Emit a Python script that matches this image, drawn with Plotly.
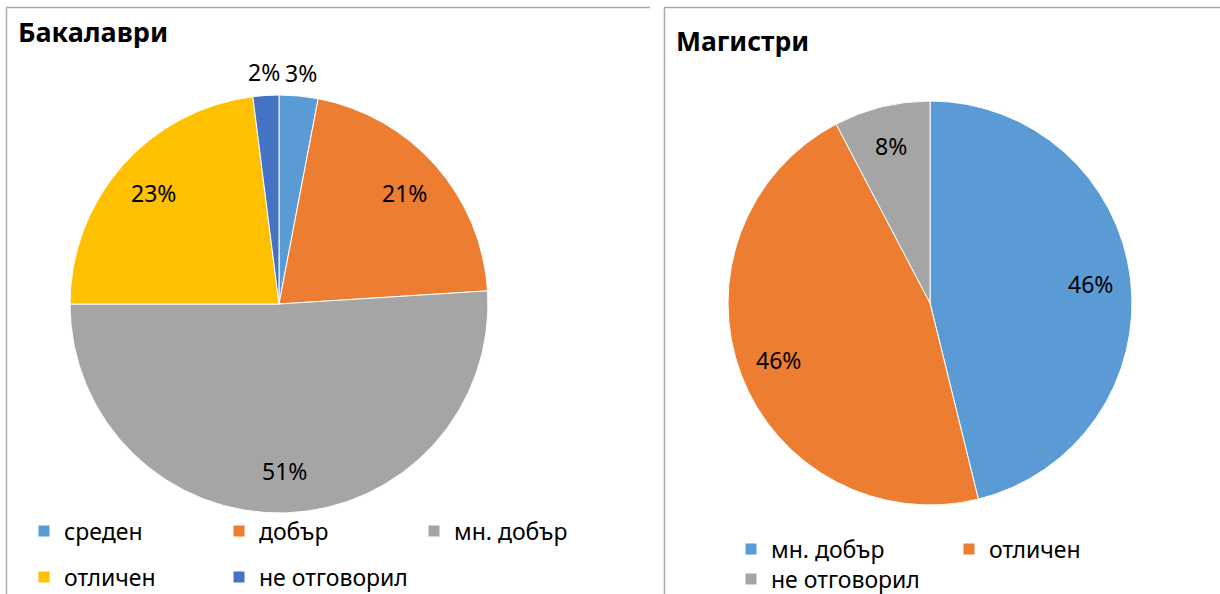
import math
import plotly.graph_objects as go

# ---- data ----
bach_labels = ["среден", "добър", "мн. добър", "отличен", "не отговорил"]
bach_values = [3, 21, 51, 23, 2]
bach_colors = ["#5B9BD5", "#ED7D31", "#A5A5A5", "#FFC000", "#4472C4"]
bach_textpos = ["outside", "inside", "inside", "inside", "outside"]

mag_labels = ["мн. добър", "отличен", "не отговорил"]
mag_values = [6, 6, 1]
mag_colors = ["#5B9BD5", "#ED7D31", "#A5A5A5"]
mag_textpos = ["inside", "inside", "inside"]

titles = ["Бакалаври", "Магистри"]

W, H = 1220, 594
FONT = "Noto Sans"

def px_x(x):
    return x / W

def px_y(y):
    return 1 - y / H

# pie geometry (pixels)
BACH = dict(cx=279, cy=304, r=209)
MAG = dict(cx=930, cy=303, r=202)

fig = go.Figure()

def add_pie(labels, values, colors, g):
    fig.add_trace(go.Pie(
        labels=labels, values=values, sort=False, direction="clockwise", rotation=0,
        marker=dict(colors=colors, line=dict(color="white", width=1)),
        textinfo="none",
        domain=dict(x=[px_x(g["cx"] - g["r"]), px_x(g["cx"] + g["r"])],
                    y=[px_y(g["cy"] + g["r"]), px_y(g["cy"] - g["r"])]),
        showlegend=False, hoverinfo="label+percent",
    ))

add_pie(bach_labels, bach_values, bach_colors, BACH)
add_pie(mag_labels, mag_values, mag_colors, MAG)

# percentage labels placed along each slice's mid-angle (data-driven)
annotations = []

def slice_labels(values, textpos, g):
    total = sum(values)
    cum = 0
    for v, pos in zip(values, textpos):
        mid = (cum + v / 2) / total * 2 * math.pi
        cum += v
        k = 0.8 if pos == "inside" else 1.11
        x = g["cx"] + k * g["r"] * math.sin(mid)
        y = g["cy"] - k * g["r"] * math.cos(mid)
        annotations.append(dict(
            text=f"{round(100 * v / total)}%", xref="paper", yref="paper",
            x=px_x(x), y=px_y(y), xanchor="center", yanchor="middle", showarrow=False,
            font=dict(family=FONT, size=23, color="black")))

slice_labels(bach_values, bach_textpos, BACH)
slice_labels(mag_values, mag_textpos, MAG)

# legend entries (rows)
bach_rows = [[0, 1, 2], [3, 4]]
mag_rows = [[0, 1], [2]]

def add_entries(labels, colors, idxs, legend):
    for i in idxs:
        fig.add_trace(go.Scatter(
            x=[None], y=[None], mode="markers", name=labels[i],
            marker=dict(symbol="square", size=11, color=colors[i]),
            legend=legend, showlegend=True, hoverinfo="skip",
        ))

add_entries(bach_labels, bach_colors, bach_rows[0], "legend")
add_entries(bach_labels, bach_colors, bach_rows[1], "legend2")
add_entries(mag_labels, mag_colors, mag_rows[0], "legend3")
add_entries(mag_labels, mag_colors, mag_rows[1], "legend4")

leg_common = dict(orientation="h", xanchor="left", yanchor="middle",
                  xref="container", yref="container",
                  font=dict(family=FONT, size=23, color="black"),
                  bgcolor="rgba(0,0,0,0)", itemsizing="trace",
                  entrywidthmode="pixels")

for i, t in enumerate(titles):
    annotations.append(dict(
        text="<b>" + t + "</b>", xref="paper", yref="paper",
        x=px_x([16, 674][i]), y=px_y([31, 41][i]),
        xanchor="left", yanchor="middle", showarrow=False,
        font=dict(family=FONT, size=[27, 26.5][i], color="black")))

BOX = "#ABABAB"
fig.update_layout(
    width=W, height=H,
    margin=dict(l=0, r=0, t=0, b=0, autoexpand=False),
    paper_bgcolor="white", plot_bgcolor="white",
    xaxis=dict(visible=False), yaxis=dict(visible=False),
    legend=dict(x=px_x(24), y=px_y(531), entrywidth=150, **leg_common),
    legend2=dict(x=px_x(24), y=px_y(577), entrywidth=150, **leg_common),
    legend3=dict(x=px_x(731), y=px_y(549), entrywidth=173, **leg_common),
    legend4=dict(x=px_x(731), y=px_y(579), entrywidth=173, **leg_common),
    shapes=[
        dict(type="line", xref="paper", yref="paper", x0=px_x(6), x1=px_x(650), y0=px_y(7.5), y1=px_y(7.5),
             line=dict(color=BOX, width=1.5)),
        dict(type="line", xref="paper", yref="paper", x0=px_x(6.5), x1=px_x(6.5), y0=px_y(7.5), y1=0,
             line=dict(color=BOX, width=1.5)),
        dict(type="line", xref="paper", yref="paper", x0=px_x(664), x1=1, y0=px_y(7.5), y1=px_y(7.5),
             line=dict(color=BOX, width=1.5)),
        dict(type="line", xref="paper", yref="paper", x0=px_x(664.5), x1=px_x(664.5), y0=px_y(7.5), y1=0,
             line=dict(color=BOX, width=1.5)),
    ],
    annotations=annotations,
)

fig.write_html("out.html", config={"displayModeBar": False},
               post_script="document.body.style.margin='0';document.body.style.overflow='hidden';")
